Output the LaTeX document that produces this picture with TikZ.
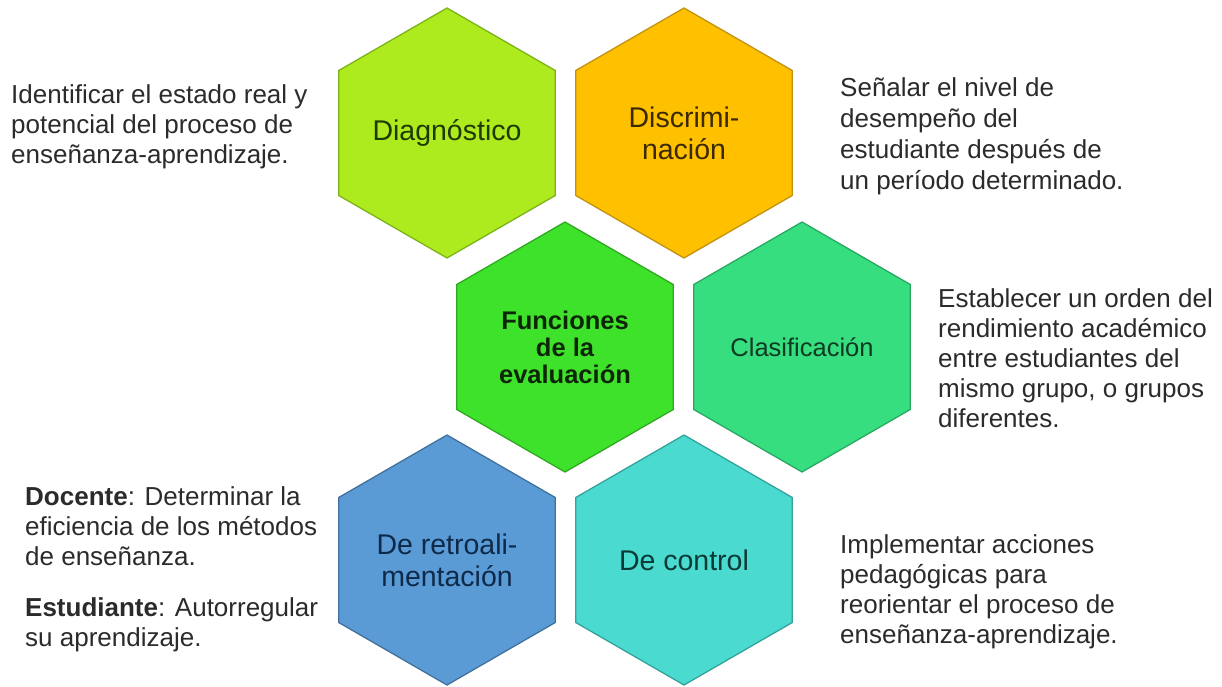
\documentclass[tikz,border=0pt]{standalone}
\usepackage{fontspec}
\setmainfont{Liberation Sans}
\usetikzlibrary{shapes.geometric}
\definecolor{diagF}{HTML}{ADEA1E}\definecolor{diagD}{HTML}{7DB31A}\definecolor{diagT}{HTML}{1E3A00}
\definecolor{discF}{HTML}{FFC000}\definecolor{discD}{HTML}{C29210}\definecolor{discT}{HTML}{3B2A00}
\definecolor{funcF}{HTML}{3FE22B}\definecolor{funcD}{HTML}{31A823}\definecolor{funcT}{HTML}{0E2608}
\definecolor{clasF}{HTML}{37DE7F}\definecolor{clasD}{HTML}{2AA862}\definecolor{clasT}{HTML}{0F3A22}
\definecolor{retrF}{HTML}{5B9BD5}\definecolor{retrD}{HTML}{41719C}\definecolor{retrT}{HTML}{0E2A4A}
\definecolor{ctrlF}{HTML}{4BDACF}\definecolor{ctrlD}{HTML}{34A39B}\definecolor{ctrlT}{HTML}{0A3A36}
\definecolor{sideT}{HTML}{2B2B2B}
\tikzset{
  hexa/.style={regular polygon, regular polygon sides=6, shape border rotate=30,
    minimum size=250pt, inner sep=0pt, line width=1.3pt, align=center,
    font=\fontsize{28.5}{32}\selectfont},
  sidetext/.style={anchor=west, align=left, inner sep=0pt, text=sideT,
    font=\fontsize{26}{30}\selectfont}
}
\begin{document}
\begin{tikzpicture}[x=1pt,y=-1pt]
\useasboundingbox[fill=white] (0,0) rectangle (1222,687);
\node[hexa, fill=diagF, draw=diagD, text=diagT] (diag) at (447,133) {Diagnóstico};
\node[hexa, fill=discF, draw=discD, text=discT] (disc) at (684,133) {Discrimi-\\nación};
\node[hexa, fill=funcF, draw=funcD, text=funcT, font=\fontsize{25.5}{27}\selectfont\bfseries] (func) at (565,347) {Funciones\\de la\\evaluación};
\node[hexa, fill=clasF, draw=clasD, text=clasT, font=\fontsize{25.5}{28}\selectfont] (clas) at (802,347) {Clasificación};
\node[hexa, fill=retrF, draw=retrD, text=retrT] (retr) at (447,560) {De retroali-\\mentación};
\node[hexa, fill=ctrlF, draw=ctrlD, text=ctrlT] (ctrl) at (684,560) {De control};

\node[sidetext] (tdiag) at (11,127) {Identificar el estado real y\\potencial del proceso de\\enseñanza-aprendizaje.};
\node[sidetext, font=\fontsize{26}{31}\selectfont] (tdisc) at (840,136) {Señalar el nivel de\\desempeño del\\estudiante después de\\un período determinado.};
\node[sidetext] (tclas) at (938,358) {Establecer un orden del\\rendimiento académico\\entre estudiantes del\\mismo grupo, o grupos\\diferentes.};
\node[sidetext] (tretr) at (25,569) {\textbf{Docente}: Determinar la\\eficiencia de los métodos\\de enseñanza.\\[21pt]\textbf{Estudiante}: Autorregular\\su aprendizaje.};
\node[sidetext] (tctrl) at (840,592) {Implementar acciones\\pedagógicas para\\reorientar el proceso de\\enseñanza-aprendizaje.};
\end{tikzpicture}
\end{document}
